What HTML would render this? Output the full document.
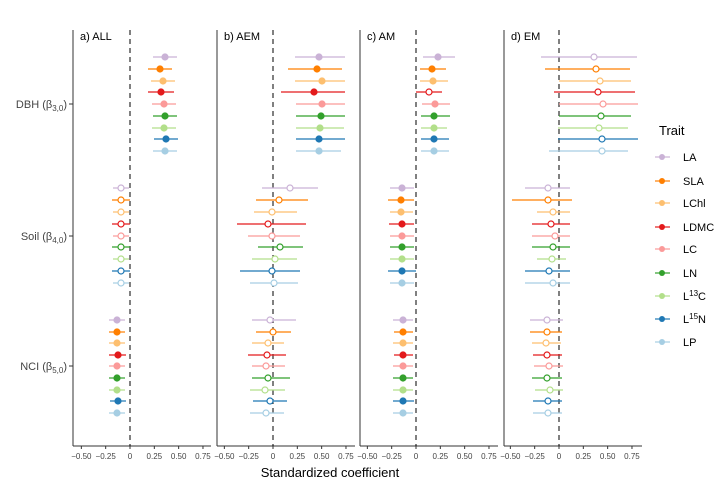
<!DOCTYPE html>
<html><head><meta charset="utf-8"><style>
body{margin:0;background:#fff;width:725px;height:487px;overflow:hidden}
text{font-family:"Liberation Sans",sans-serif}
</style></head><body>
<svg id="s" width="725" height="487" xmlns="http://www.w3.org/2000/svg"></svg>
<script>
const C=['#cab2d6','#ff7f00','#fdbf6f','#e31a1c','#fb9a99','#33a02c','#b2df8a','#1f78b4','#a6cee3'];
const N=['LA','SLA','LChl','LDMC','LC','LN','L<tspan dy="-4" font-size="8">13</tspan><tspan dy="4">C</tspan>','L<tspan dy="-4" font-size="8">15</tspan><tspan dy="4">N</tspan>','LP'];
const P=[{ax:73,z:130,t:'a) ALL'},{ax:217,z:273,t:'b) AEM'},{ax:360,z:416,t:'c) AM'},{ax:504,z:559,t:'d) EM'}];
const U=97.3;
const rowsY=[[57,69,81,92,104,116,128,139,151],[188,200,212,224,236,247,259,271,283],[320,332,343,355,366,378,390,401,413]];
// data: [x,lo,hi,open]
const D={
0:[[[165,153,177],[160,148,172],[163,151,175],[161,148,174],[164,152,176],[165,153,177],[164,152,176],[166,154,178],[165,153,177]],
   [[121,113,129],[121,112,130],[121,113,129,],[121,112,130],[121,113,129],[121,112,130],[121,113,129],[121,112,130],[121,113,129]].map((r,i)=>[...r.slice(0,3),1]),
   [[117,109,125],[117,109,125],[117,109,125],[118,109,126],[117,109,125],[117,109,125],[117,109,125],[118,110,126],[117,109,125]]],
1:[[[319,295,345],[317,288,342],[322,295,345],[314,281,345],[322,296,345],[321,296,345],[320,296,344],[319,296,345],[319,296,341]],
   [[290,262,318,1],[279,256,308,1],[272,254,297,1],[268,237,306,1],[272,248,300,1],[280,258,303,1],[275,252,297,1],[272,240,300,1],[274,250,298,1]],
   [[270,252,296,1],[273,256,291,1],[268,252,284,1],[267,248,286,1],[266,252,285,1],[268,252,290,1],[265,250,285,1],[270,253,287,1],[266,250,284,1]]],
2:[[[438,423,455],[432,420,446],[433,420,448],[429,416,442,1],[435,422,450],[434,421,450],[434,421,447],[434,421,449],[434,421,449]],
   [[402,390,414],[401,388,414],[401,390,413],[402,389,414],[402,390,414],[402,390,414],[402,390,414],[402,388,416],[402,390,414]],
   [[403,393,413],[403,394,413],[403,393,413],[403,394,413],[403,393,413],[403,393,413],[403,393,413],[403,393,414],[403,393,413]]],
3:[[[594,541,637,1],[596,545,630,1],[600,559,631,1],[598,554,635,1],[603,559,638,1],[601,559,631,1],[599,558,628,1],[602,558,638,1],[602,549,628,1]],
   [[548,525,570,1],[548,512,572,1],[553,537,570,1],[551,532,570,1],[555,532,570,1],[553,532,570,1],[552,537,566,1],[549,525,570,1],[553,525,570,1]],
   [[547,530,563,1],[547,530,562,1],[546,532,561,1],[547,533,562,1],[549,534,563,1],[547,532,562,1],[550,535,563,1],[548,533,562,1],[548,533,562,1]]]
};
let h='';
P.forEach((p,pi)=>{
  h+=`<line x1="${p.ax}" y1="30" x2="${p.ax}" y2="446" stroke="#333" stroke-width="1"/>`;
  h+=`<line x1="${p.ax}" y1="446" x2="${p.ax+138}" y2="446" stroke="#333"/>`;
  h+=`<line x1="${p.z}" y1="30" x2="${p.z}" y2="446" stroke="#000" stroke-dasharray="5,4"/>`;
  h+=`<text x="${p.ax+7}" y="40" font-size="11">${p.t}</text>`;
  [-0.5,-0.25,0,0.25,0.5,0.75].forEach(v=>{const x=p.z+v*U;
    h+=`<line x1="${x}" y1="446" x2="${x}" y2="449" stroke="#333"/><text x="${x}" y="459" font-size="8" fill="#444" text-anchor="middle">${v==0?'0':(v<0?'−':'')+Math.abs(v).toFixed(2)}</text>`;});
  D[pi].forEach((g,gi)=>g.forEach((d,i)=>{const y=rowsY[gi][i],c=C[i];
    h+=`<line x1="${d[1]}" y1="${y}" x2="${d[2]}" y2="${y}" stroke="${c}" stroke-width="1.2"/>`;
    h+=`<circle cx="${d[0]}" cy="${y}" r="3" fill="${d[3]?'#fff':c}" stroke="${c}" stroke-width="1.2"/>`;}));
});
[['DBH',104,'3'],['Soil',236,'4'],['NCI',366,'5']].forEach(r=>{
  h+=`<line x1="69" y1="${r[1]}" x2="73" y2="${r[1]}" stroke="#333"/><text x="67" y="${r[1]+4}" font-size="11" fill="#444" text-anchor="end">${r[0]} (β<tspan font-size="8" dy="3">${r[2]},0</tspan><tspan dy="-3">)</tspan></text>`;});
h+=`<text x="330" y="477" font-size="13" text-anchor="middle">Standardized coefficient</text>`;
h+=`<text x="659" y="135" font-size="13">Trait</text>`;
[157,181,203,227,249,273,296,319,342].forEach((y,i)=>{
  h+=`<line x1="655" y1="${y}" x2="670" y2="${y}" stroke="${C[i]}" stroke-width="1.2"/><circle cx="662" cy="${y}" r="3" fill="${C[i]}"/><text x="683" y="${y+4}" font-size="11">${N[i]}</text>`;});
document.getElementById('s').innerHTML=h;
</script>
</body></html>
